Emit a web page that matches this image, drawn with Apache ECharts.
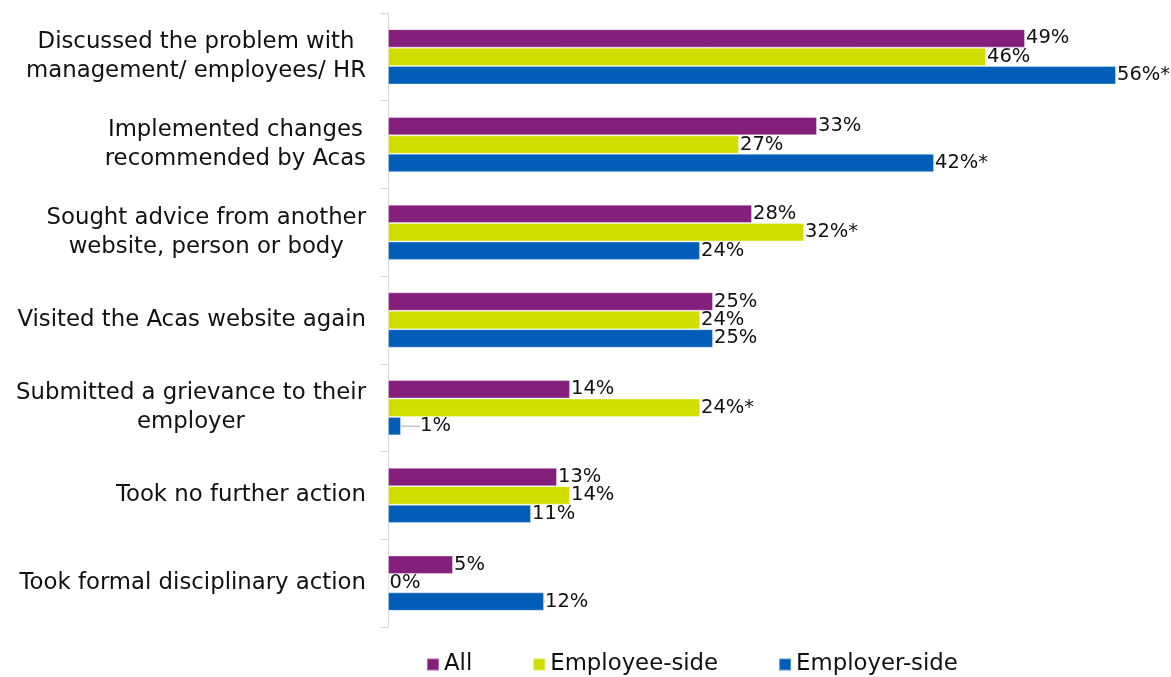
<!DOCTYPE html>
<html>
<head>
<meta charset="utf-8">
<script src="https://cdn.jsdelivr.net/npm/echarts@6/dist/echarts.min.js"></script>
<style>
  html, body { margin: 0; padding: 0; background: #ffffff; }
  #chart { width: 1171px; height: 677px; }
</style>
</head>
<body>
<div id="chart"></div>
<script>
// Actions taken after contacting Acas, by respondent group (%)
const categories = [
  'Discussed the problem with\nmanagement/ employees/ HR',
  'Implemented changes\nrecommended by Acas',
  'Sought advice from another\nwebsite, person or body',
  'Visited the Acas website again',
  'Submitted a grievance to their\nemployer',
  'Took no further action',
  'Took formal disciplinary action'
];
const seriesNames = ['All', 'Employee-side', 'Employer-side'];
const allValues      = [49, 33, 28, 25, 14, 13, 5];
const employeeValues = [46, 27, 32, 24, 24, 14, 0];
const employerValues = [56, 42, 24, 25, 1, 11, 12];
// significant differences are flagged with an asterisk
const employeeFlags  = [false, false, true, false, true, false, false];
const employerFlags  = [true, true, false, false, false, false, false];

const colors = ['#841f7c', '#d0dd00', '#005eb8'];
const FONT = 'DejaVu Sans';
const CAT_SIZE = 22.8;
const VALUE_SIZE = 19.5;

function labelFormatter(flags) {
  return function (p) {
    return p.value + '%' + (flags && flags[p.dataIndex] ? '*' : '');
  };
}

function makeSeries(name, values, color, flags) {
  return {
    name: name,
    type: 'bar',
    data: values,
    barGap: '0%',
    barCategoryGap: '37%',
    itemStyle: { color: color, borderColor: 'rgba(255,255,255,0.35)', borderWidth: 1 },
    label: {
      show: true,
      position: 'right',
      distance: 1,
      color: '#111111',
      fontFamily: FONT,
      fontSize: VALUE_SIZE,
      formatter: labelFormatter(flags)
    },
    labelLine: { lineStyle: { color: '#a6a6a6', width: 1 } }
  };
}

const chart = echarts.init(document.getElementById('chart'), null, { renderer: 'canvas' });
chart.setOption({
  animation: false,
  backgroundColor: '#ffffff',
  color: colors,
  grid: { left: 388, top: 13, width: 780, height: 614, containLabel: false },
  legend: {
    left: 426,
    top: 653,
    padding: 0,
    icon: 'rect',
    itemWidth: 12,
    itemHeight: 12,
    itemGap: 60,
    textStyle: { fontFamily: FONT, fontSize: CAT_SIZE, color: '#111111' },
    data: seriesNames
  },
  xAxis: {
    type: 'value',
    min: 0,
    max: 60,
    show: false
  },
  yAxis: {
    type: 'category',
    inverse: true,
    data: categories,
    axisLine: { show: true, lineStyle: { color: '#d9d9d9', width: 1 } },
    axisTick: { show: true, length: 7, lineStyle: { color: '#d9d9d9' } },
    axisLabel: {
      margin: 22,
      align: 'right',
      color: '#111111',
      fontFamily: FONT,
      fontSize: CAT_SIZE,
      lineHeight: 29,
      formatter: function (v) {
        return v.split('\n').map(function (line) { return '{c|' + line + '}'; }).join('\n');
      },
      rich: {
        c: { align: 'center', fontFamily: FONT, fontSize: CAT_SIZE, lineHeight: 29, color: '#111111' }
      }
    }
  },
  // the tiny 1% bar gets its label pushed out with a leader line
  labelLayout: function (p) {
    if (p.seriesIndex === 2 && p.dataIndex === 4) {
      return { dx: 18, labelLinePoints: null };
    }
  },
  series: [
    makeSeries(seriesNames[0], allValues, colors[0], null),
    makeSeries(seriesNames[1], employeeValues, colors[1], employeeFlags),
    Object.assign(makeSeries(seriesNames[2], employerValues, colors[2], employerFlags), {
      labelLine: { show: true, lineStyle: { color: '#a6a6a6', width: 1 } }
    })
  ]
});
</script>
</body>
</html>
